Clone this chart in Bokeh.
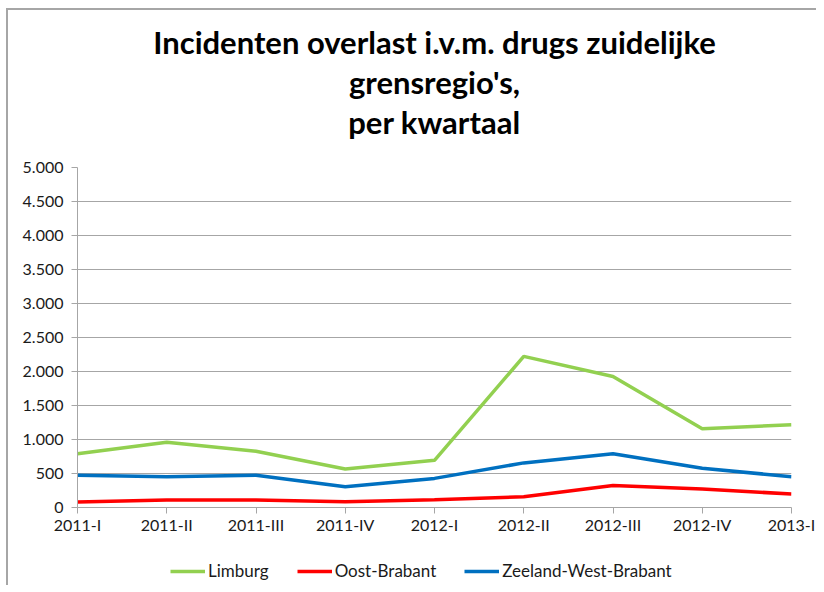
from bokeh.plotting import figure
from bokeh.layouts import column
from bokeh.models import Range1d, FixedTicker, Title, Legend, LegendItem
from bokeh.embed import file_html
from bokeh.resources import INLINE

quarters = ["2011-I", "2011-II", "2011-III", "2011-IV", "2012-I", "2012-II", "2012-III", "2012-IV", "2013-I"]
limburg = [789, 960, 827, 567, 694, 2222, 1926, 1158, 1217]
oost_brabant = [80, 109, 109, 84, 114, 158, 325, 272, 198]
zeeland_west_brabant = [473, 453, 473, 306, 428, 656, 789, 576, 453]
series_names = ["Limburg", "Oost-Brabant", "Zeeland-West-Brabant"]
series_colors = ["#92D050", "#FF0000", "#0070C0"]
y_ticks = [0, 500, 1000, 1500, 2000, 2500, 3000, 3500, 4000, 4500, 5000]
y_tick_labels = ["0", "500", "1.000", "1.500", "2.000", "2.500", "3.000", "3.500", "4.000", "4.500", "5.000"]
title_lines = ["Incidenten overlast i.v.m. drugs zuidelijke", "grensregio's,", "per kwartaal"]

FONT = "Lato"
GRAY = "#a6a6a6"

x = list(range(len(quarters)))
series = [limburg, oost_brabant, zeeland_west_brabant]

p = figure(width=808, height=535, output_backend="svg", toolbar_location=None,
           x_range=Range1d(0, len(quarters) - 1), y_range=Range1d(0, 5000),
           min_border_left=69, min_border_right=25, min_border_top=157, min_border_bottom=38)
p.outline_line_color = None
p.background_fill_color = "white"
p.border_fill_color = "white"

# spacer between the title block and the plot area, then the title lines (nearest first)
p.add_layout(Title(text=" ", text_font=FONT, text_font_size="21px", standoff=0), "above")
for t in reversed(title_lines):
    p.add_layout(Title(text=t, align="center", text_font=FONT, text_font_size="31px",
                       text_font_style="bold", text_color="#000000", standoff=0), "above")

for vals, col in zip(series, series_colors):
    p.line(x, vals, line_color=col, line_width=3.5)

p.xaxis.ticker = FixedTicker(ticks=x)
p.xaxis.major_label_overrides = {i: q for i, q in enumerate(quarters)}
p.yaxis.ticker = FixedTicker(ticks=y_ticks)
p.yaxis.major_label_overrides = {v: l for v, l in zip(y_ticks, y_tick_labels)}

for ax in (p.xaxis[0], p.yaxis[0]):
    ax.axis_line_color = GRAY
    ax.major_tick_line_color = GRAY
    ax.major_tick_in = 0
    ax.major_tick_out = 6
    ax.minor_tick_line_color = None
    ax.major_label_text_font = FONT
    ax.major_label_text_font_size = "16px"
    ax.major_label_text_color = "#1a1a1a"
p.xaxis.major_label_standoff = 1
p.yaxis.major_label_standoff = 8

p.xgrid.grid_line_color = None
p.ygrid.grid_line_color = GRAY
p.ygrid.grid_line_width = 1
p.ygrid.ticker = FixedTicker(ticks=y_ticks)

# legend strip below the chart (series drawn off-range so only the legend shows)
lf = figure(width=808, height=40, output_backend="svg", toolbar_location=None,
            x_range=Range1d(-3, -2), y_range=Range1d(0, 1), x_axis_type=None, y_axis_type=None,
            min_border_left=0, min_border_right=0, min_border_top=0, min_border_bottom=0)
lf.outline_line_color = None
lf.xgrid.grid_line_color = None
lf.ygrid.grid_line_color = None
lf.background_fill_color = "white"
lf.border_fill_color = "white"
items = []
for name, vals, col in zip(series_names, series, series_colors):
    rr = lf.line(x, vals, line_color=col, line_width=3.5)
    items.append(LegendItem(label=name, renderers=[rr]))
legend = Legend(items=items, orientation="horizontal", location=(93, 4),
                label_text_font=FONT, label_text_font_size="17px", label_text_color="#1a1a1a",
                glyph_width=35, glyph_height=20, label_height=20, label_standoff=3, spacing=28,
                border_line_color=None, background_fill_alpha=0, margin=0, padding=0)
lf.add_layout(legend, "center")

layout = column(p, lf, spacing=0,
                styles={"border-left": "2px solid #a6a6a6", "border-top": "2px solid #a6a6a6",
                        "margin-left": "6px", "margin-top": "8px"})

open("out.html", "w").write(file_html(layout, INLINE))
